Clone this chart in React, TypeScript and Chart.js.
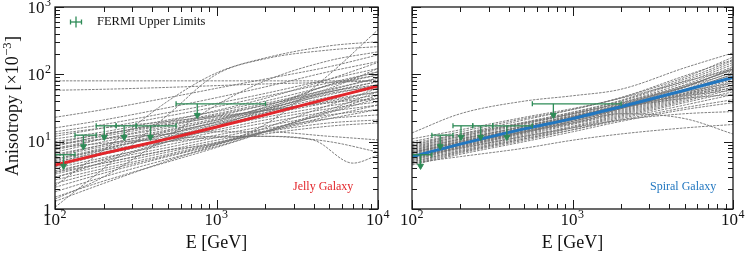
import React, { useEffect, useRef } from 'react';
import { Chart, registerables } from 'chart.js';
Chart.register(...registerables);

// ---------- data ----------
const GRAY_E = [100, 200, 500, 1000, 2000, 5000, 10000];
const ODD_E = [100, 200, 500, 1000, 2000, 4000, 7000, 10000];

const JELLY_GRAY = [
  [2.2, 7.5, 40, 105, 175, 265, 305],
  [1.06, 4, 25, 100, 170, 230, 258],
  [3.5, 4.8, 7.5, 9.5, 18, 100, 460],
  [1.4, 3, 12, 35, 80, 160, 216],
  [23, 30, 45, 62, 85, 130, 194],
  [80, 80, 80, 80, 80, 80, 80],
  [58, 60, 64, 68, 72, 76, 80],
  [16, 21, 32, 45, 65, 110, 155],
  [14, 18, 27, 37, 52, 85, 122],
  [12, 16, 24, 33, 47, 75, 109],
  [11, 14, 21, 28, 40, 68, 98],
  [10, 13, 19, 26, 37, 60, 88],
  [9, 12, 18, 25, 35, 55, 78],
  [8, 11, 16, 22, 31, 50, 70],
  [7, 10, 15, 21, 29, 46, 62],
  [6.5, 9, 14, 19, 27, 42, 55],
  [6, 8.5, 13, 18, 25, 38, 49.5],
  [5.5, 8, 12, 16.5, 23, 34, 44],
  [5, 7, 11, 15, 21, 31, 39],
  [4.5, 6.5, 10, 14, 19, 28, 35],
  [4, 5.8, 9, 12.5, 17, 25, 30],
  [3.7, 5.3, 8.2, 11.5, 15.5, 22, 25],
  [3.3, 4.8, 7.5, 10.5, 14, 19, 21],
  [3, 4.4, 7, 9.8, 13, 17, 19],
  [2.7, 4, 6.5, 9.5, 14, 22, 30],
  [2.4, 3.7, 6.2, 9.2, 14, 24, 35],
  [2.1, 3.4, 6, 9, 14.5, 27, 44],
  [1.8, 3, 5.5, 8.5, 14, 28, 49],
  [1.5, 2.6, 5, 8.2, 14, 30, 55],
  [1.3, 2.4, 5.2, 9, 16, 35, 62],
  [6.2, 9, 14.5, 21, 32, 58, 88],
  [5.2, 7.8, 13, 19.5, 30, 55, 78],
  [4.2, 6.5, 11.5, 18, 29, 55, 70],
  [3.5, 5.5, 10, 16, 27, 52, 65],
  [7.5, 11, 17, 24, 35, 62, 122],
  [8.5, 12.5, 20, 29, 44, 85, 150],
  [4.8, 7.5, 13, 20, 33, 70, 109],
  [2.9, 5, 10, 17, 30, 70, 98],
  [9.5, 13, 18, 23, 29, 40, 55],
  [13, 16, 20, 24, 29, 38, 44],
  [5.5, 7.5, 10, 11.5, 12, 10, 7],
  [9, 11, 13, 14, 14, 12, 10.6],
];
const JELLY_ODD = [
  [8, 9.5, 11, 12, 12, 10.5, 4.8, 6.3],
];
const JELLY_MEAN = [4.5, 6.7, 11, 16.5, 25, 44, 67];

const SPIRAL_GRAY = [
  [13.5, 26, 40, 48, 60, 125, 208],
  [10, 14, 22, 30, 45, 90, 180],
  [9, 13, 21, 30, 45, 95, 165],
  [8.5, 12, 19, 27, 40, 80, 150],
  [8, 11.5, 18, 26, 38, 75, 140],
  [7.5, 11, 17, 25, 36, 70, 130],
  [7.2, 10.5, 17, 24, 35, 65, 120],
  [7, 10, 16, 23, 33, 60, 110],
  [6.8, 9.8, 15.5, 22, 32, 58, 100],
  [6.5, 9.5, 15, 21, 31, 55, 95],
  [6.3, 9.2, 14.5, 20, 30, 52, 90],
  [6, 9, 14, 20, 29, 50, 85],
  [5.8, 8.6, 13.5, 19, 28, 48, 80],
  [5.6, 8.3, 13, 18.5, 27, 46, 75],
  [5.4, 8, 12.5, 18, 26, 44, 70],
  [5.2, 7.7, 12, 17, 25, 42, 65],
  [5, 7.4, 11.5, 16.5, 24, 40, 60],
  [4.8, 7, 11, 16, 23, 38, 55],
  [4.6, 6.8, 10.5, 15, 22, 35, 50],
  [7.8, 11, 17, 24, 34, 55, 75],
  [6.6, 10, 16, 23, 33, 52, 68],
  [5.5, 8.5, 14, 21, 31, 50, 62],
  [9.5, 13, 19, 26, 37, 65, 105],
  [8.2, 12, 18.5, 26, 38, 68, 115],
  [6.1, 9.4, 15.5, 23, 35, 66, 118],
  [5.7, 8.8, 14.5, 22, 34, 64, 125],
  [5.3, 8.2, 13.5, 20, 31, 58, 100],
  [11, 15, 23, 31, 44, 78, 120],
  [4.8, 6, 8, 10.5, 13, 16, 18],
  [7, 9.5, 14, 19, 26, 22, 13],
  [6, 8, 12, 16, 21, 26, 28],
  [5, 7.2, 11, 15, 21, 32, 42],
  [4.5, 6.5, 10, 14, 20, 30, 38],
  [7.4, 10.8, 16.5, 23.5, 33, 48, 58],
  [6.9, 10.2, 16, 22.5, 32, 44, 50],
  [8.8, 12.5, 19.5, 27.5, 41, 85, 160],
];
const SPIRAL_ODD: number[][] = [];
const SPIRAL_MEAN = [6.0, 9.2, 15.5, 22, 33, 58, 90];

const FERMI_E = [113, 150, 202, 268, 390, 760];
const FERMI_LO = [100, 133, 180, 239, 318, 562];
const FERMI_HI = [133, 180, 239, 318, 562, 2010];
const FERMI_UL = [6.4, 12.5, 17.2, 17.2, 17.2, 36.5];
const ARROW_FACTOR = 0.68;

const X_MAJOR = [100, 1000, 10000];
const X_MAJOR_BASE = ['10', '10', '10'];
const X_MAJOR_EXP = ['2', '3', '4'];
const Y_MAJOR = [1, 10, 100, 1000];
const Y_MAJOR_BASE = ['1', '10', '10', '10'];
const Y_MAJOR_EXP = ['', '1', '2', '3'];

// ---------- styles ----------
const SERIF = '"Liberation Serif", "DejaVu Serif", serif';
const GRAY = 'rgba(115,115,115,0.95)';
const GREEN = '#2e8b57';
const RED = '#e3262b';
const BLUE = '#2277c0';

function isPow10(v: number) {
  const l = Math.log10(v);
  return Math.abs(l - Math.round(l)) < 1e-9;
}
function isNice(v: number) {
  const m = v / Math.pow(10, Math.floor(Math.log10(v) + 1e-9));
  return Math.abs(m - Math.round(m)) < 1e-6;
}

function drawSup(ctx: CanvasRenderingContext2D, base: string, exp: string, x: number, y: number,
  align: 'left' | 'center' | 'right', baseSize: number, expSize: number, rise: number, tail = '') {
  const bf = `${baseSize}px ${SERIF}`;
  const ef = `${expSize}px ${SERIF}`;
  ctx.font = bf;
  const wb = ctx.measureText(base).width;
  const wt = tail ? ctx.measureText(tail).width : 0;
  ctx.font = ef;
  const we = exp ? ctx.measureText(exp).width + 1 : 0;
  const total = wb + we + wt;
  const sx = align === 'center' ? x - total / 2 : align === 'right' ? x - total : x;
  ctx.textAlign = 'left';
  ctx.textBaseline = 'alphabetic';
  ctx.font = bf;
  ctx.fillText(base, sx, y);
  if (exp) {
    ctx.font = ef;
    ctx.fillText(exp, sx + wb + 0.5, y - rise);
  }
  if (tail) {
    ctx.font = bf;
    ctx.fillText(tail, sx + wb + we, y);
  }
}

const frameTicks = {
  id: 'frameTicks',
  afterDatasetsDraw(chart: any, _args: any, opts: any) {
    const { ctx, chartArea: a, scales } = chart;
    const xs = scales.x, ys = scales.y;
    ctx.save();
    ctx.strokeStyle = '#1a1a1a';
    ctx.lineWidth = 1;
    const seg = (x1: number, y1: number, x2: number, y2: number) => {
      ctx.beginPath(); ctx.moveTo(x1, y1); ctx.lineTo(x2, y2); ctx.stroke();
    };
    for (const t of xs.ticks) {
      const v = t.value;
      if (!isNice(v) || v < 100 || v > 10000) continue;
      const L = isPow10(v) ? 9 : 5;
      const px = Math.round(xs.getPixelForValue(v)) + 0.5;
      seg(px, a.bottom, px, a.bottom - L);
      seg(px, a.top, px, a.top + L);
    }
    for (const t of ys.ticks) {
      const v = t.value;
      if (!isNice(v) || v < 1 || v > 1000) continue;
      const L = isPow10(v) ? 9 : 5;
      const py = Math.round(ys.getPixelForValue(v)) + 0.5;
      seg(a.left, py, a.left + L, py);
      seg(a.right, py, a.right - L, py);
    }
    ctx.lineWidth = 1.3;
    ctx.strokeRect(a.left, a.top, a.right - a.left, a.bottom - a.top);

    ctx.fillStyle = '#111';
    // x tick labels
    for (const t of xs.ticks) {
      const idx = X_MAJOR.findIndex((m) => Math.abs(m - t.value) < 1e-6);
      if (idx < 0) continue;
      const px = xs.getPixelForValue(t.value);
      drawSup(ctx, X_MAJOR_BASE[idx], X_MAJOR_EXP[idx], px, a.bottom + 16, 'center', 17, 12, 7);
    }
    if (opts.yLabels) {
      for (const t of ys.ticks) {
        const idx = Y_MAJOR.findIndex((m) => Math.abs(m - t.value) < 1e-6);
        if (idx < 0) continue;
        const py = ys.getPixelForValue(t.value);
        drawSup(ctx, Y_MAJOR_BASE[idx], Y_MAJOR_EXP[idx], a.left - 3.5, py + 5.5, 'right', 17, 12, 7);
      }
    }
    // x title
    ctx.font = `18px ${SERIF}`;
    ctx.textAlign = 'center';
    ctx.textBaseline = 'alphabetic';
    ctx.fillText('E [GeV]', (a.left + a.right) / 2, 248);
    // y title
    if (opts.yTitle) {
      ctx.save();
      ctx.translate(18, 106);
      ctx.rotate(-Math.PI / 2);
      drawSup(ctx, 'Anisotropy [\u00d710', '\u22123', 0, 0, 'center', 18, 12.5, 7.5, ']');
      ctx.restore();
    }
    // legend
    if (opts.legend) {
      ctx.strokeStyle = GREEN;
      ctx.lineWidth = 1.3;
      seg(70, 22, 82, 22);
      seg(70.5, 19.5, 70.5, 24.5);
      seg(81.5, 19.5, 81.5, 24.5);
      seg(76, 16.5, 76, 27.5);
      ctx.fillStyle = '#111';
      ctx.font = `12.5px ${SERIF}`;
      ctx.textAlign = 'left';
      ctx.textBaseline = 'middle';
      ctx.fillText('FERMI Upper Limits', 97, 22);
    }
    // galaxy name
    ctx.fillStyle = opts.nameColor;
    ctx.font = `12px ${SERIF}`;
    ctx.textAlign = 'left';
    ctx.textBaseline = 'alphabetic';
    ctx.fillText(opts.name, a.left + 238, 189.5);
    ctx.restore();
  },
};

function buildDatasets(grayRows: number[][], oddRows: number[][], mean: number[], meanColor: string) {
  const ds: any[] = [];
  const grayStyle = {
    type: 'line', borderColor: GRAY, borderWidth: 0.95, borderDash: [2.6, 1.1],
    pointRadius: 0, cubicInterpolationMode: 'monotone', fill: false, order: 3,
  };
  grayRows.forEach((row) => ds.push({ ...grayStyle, data: GRAY_E.map((e, i) => ({ x: e, y: row[i] })) }));
  oddRows.forEach((row) => ds.push({ ...grayStyle, data: ODD_E.map((e, i) => ({ x: e, y: row[i] })) }));
  ds.push({
    type: 'line', borderColor: meanColor, borderWidth: 3, pointRadius: 0,
    cubicInterpolationMode: 'monotone', fill: false, order: 2,
    data: GRAY_E.map((e, i) => ({ x: e, y: mean[i] })),
  });
  FERMI_E.forEach((e, i) => {
    ds.push({
      type: 'line', borderColor: GREEN, borderWidth: 1.3, fill: false, order: 0,
      pointStyle: 'line', pointRotation: 90, pointRadius: 2.5, pointBorderColor: GREEN, pointBorderWidth: 1.3,
      data: [{ x: FERMI_LO[i], y: FERMI_UL[i] }, { x: FERMI_HI[i], y: FERMI_UL[i] }],
    });
    ds.push({
      type: 'line', borderColor: GREEN, borderWidth: 1.3, fill: false, order: 0,
      pointStyle: 'triangle', pointRotation: 180, pointRadius: [0, 3.4],
      pointBackgroundColor: GREEN, pointBorderColor: GREEN, pointBorderWidth: 1,
      data: [{ x: e, y: FERMI_UL[i] }, { x: e, y: FERMI_UL[i] * ARROW_FACTOR }],
    });
  });
  return ds;
}

function makeConfig(datasets: any[], padding: any, pluginOpts: any): any {
  return {
    type: 'line',
    data: { datasets },
    options: {
      animation: false,
      responsive: false,
      events: [],
      layout: { padding },
      scales: {
        x: {
          type: 'logarithmic', min: 100, max: 10000,
          ticks: { display: false }, grid: { display: false, drawTicks: false }, border: { display: false },
        },
        y: {
          type: 'logarithmic', min: 1, max: 1000,
          ticks: { display: false }, grid: { display: false, drawTicks: false }, border: { display: false },
        },
      },
      plugins: {
        legend: { display: false },
        tooltip: { enabled: false },
        frameTicks: pluginOpts,
      },
    },
    plugins: [frameTicks],
  };
}

export default function App() {
  const leftRef = useRef<HTMLCanvasElement>(null);
  const rightRef = useRef<HTMLCanvasElement>(null);
  useEffect(() => {
    document.body.style.margin = '0';
    const c1 = new Chart(leftRef.current!, makeConfig(
      buildDatasets(JELLY_GRAY, JELLY_ODD, JELLY_MEAN, RED),
      { left: 55, top: 7, right: 22, bottom: 47 },
      { yLabels: true, yTitle: true, legend: true, name: 'Jelly Galaxy', nameColor: RED },
    ));
    const c2 = new Chart(rightRef.current!, makeConfig(
      buildDatasets(SPIRAL_GRAY, SPIRAL_ODD, SPIRAL_MEAN, BLUE),
      { left: 32, top: 7, right: 14, bottom: 47 },
      { yLabels: false, yTitle: false, legend: false, name: 'Spiral Galaxy', nameColor: BLUE },
    ));
    return () => { c1.destroy(); c2.destroy(); };
  }, []);
  return (
    <div style={{ position: 'fixed', left: 0, top: 0, width: 747, height: 256, background: '#fff' }}>
      <canvas ref={leftRef} width={400} height={256} style={{ position: 'absolute', left: 0, top: 0 }} />
      <canvas ref={rightRef} width={367} height={256} style={{ position: 'absolute', left: 380, top: 0 }} />
    </div>
  );
}
